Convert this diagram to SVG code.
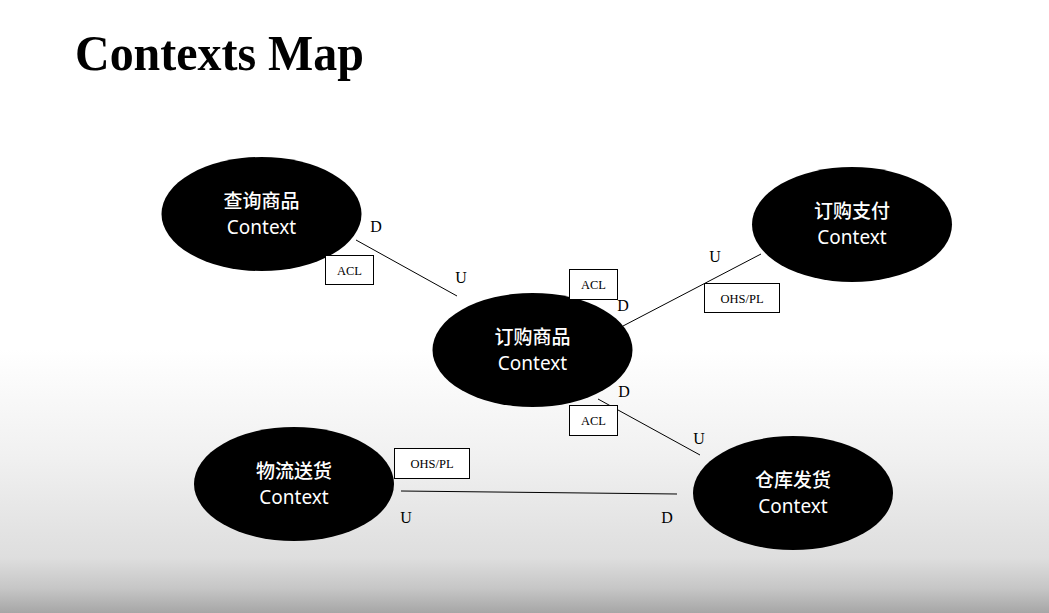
<svg xmlns="http://www.w3.org/2000/svg" width="1049" height="613" viewBox="0 0 1049 613">
  <defs>
    <linearGradient id="bg" x1="0" y1="0" x2="0" y2="1">
      <stop offset="0" stop-color="#ffffff"/>
      <stop offset="0.57" stop-color="#ffffff"/>
      <stop offset="0.75" stop-color="#f0f0f0"/>
      <stop offset="0.91" stop-color="#dedede"/>
      <stop offset="0.96" stop-color="#c6c6c6"/>
      <stop offset="1" stop-color="#a6a6a6"/>
    </linearGradient>
  </defs>
  <style>
    .node { fill: #000000; }
    .zh { font-family: "Noto Sans CJK SC", "Noto Sans", sans-serif; font-size: 19px; font-weight: 500; fill: #ffffff; text-anchor: middle; }
    .en { font-family: "Noto Sans", "Open Sans", sans-serif; font-size: 19px; fill: #ffffff; text-anchor: middle; }
    .conn { stroke: #000000; stroke-width: 1; fill: none; }
    .box { fill: #ffffff; stroke: #000000; stroke-width: 1; }
    .boxt { font-family: "Liberation Serif", "Times New Roman", serif; font-size: 12.5px; fill: #000000; text-anchor: middle; }
    .lbl { font-family: "Liberation Serif", "Times New Roman", serif; font-size: 16px; fill: #000000; text-anchor: middle; }
    .title { font-family: "Liberation Serif", "Times New Roman", serif; font-size: 50px; font-weight: bold; fill: #000000; }
  </style>
  <rect x="0" y="0" width="1049" height="613" fill="url(#bg)"/>
  <text class="title" x="75" y="70" textLength="289" lengthAdjust="spacingAndGlyphs">Contexts Map</text>

  <g id="connectors">
    <line class="conn" x1="356" y1="240" x2="457" y2="296"/>
    <line class="conn" x1="623" y1="326" x2="761" y2="254"/>
    <line class="conn" x1="598" y1="399" x2="700" y2="455"/>
    <line class="conn" x1="401" y1="491" x2="677" y2="494"/>
  </g>

  <g id="node-chaxun">
    <ellipse class="node" cx="261.5" cy="214" rx="100" ry="57"/>
    <text class="zh" x="261.5" y="208">查询商品</text>
    <text class="en" x="261.5" y="234">Context</text>
  </g>
  <g id="node-dinggou">
    <ellipse class="node" cx="532.5" cy="350" rx="100" ry="57"/>
    <text class="zh" x="532.5" y="344">订购商品</text>
    <text class="en" x="532.5" y="370">Context</text>
  </g>
  <g id="node-zhifu">
    <ellipse class="node" cx="852" cy="224.5" rx="100" ry="57.5"/>
    <text class="zh" x="852" y="218">订购支付</text>
    <text class="en" x="852" y="244">Context</text>
  </g>
  <g id="node-wuliu">
    <ellipse class="node" cx="294" cy="484" rx="100" ry="57"/>
    <text class="zh" x="294" y="478">物流送货</text>
    <text class="en" x="294" y="504">Context</text>
  </g>
  <g id="node-cangku">
    <ellipse class="node" cx="793" cy="493" rx="100" ry="57"/>
    <text class="zh" x="793" y="487">仓库发货</text>
    <text class="en" x="793" y="513">Context</text>
  </g>

  <g id="labels">
    <rect class="box" x="325.5" y="255.5" width="48" height="29"/>
    <text class="boxt" x="349.5" y="274.5">ACL</text>
    <rect class="box" x="569.5" y="269.5" width="48" height="30"/>
    <text class="boxt" x="593.5" y="289">ACL</text>
    <rect class="box" x="704.5" y="283.5" width="75" height="29"/>
    <text class="boxt" x="742" y="302.5">OHS/PL</text>
    <rect class="box" x="569.5" y="405.5" width="48" height="30"/>
    <text class="boxt" x="593.5" y="425">ACL</text>
    <rect class="box" x="394.5" y="448.5" width="75" height="30"/>
    <text class="boxt" x="432" y="468">OHS/PL</text>

    <text class="lbl" x="376" y="232">D</text>
    <text class="lbl" x="461" y="283">U</text>
    <text class="lbl" x="623" y="311">D</text>
    <text class="lbl" x="715" y="262">U</text>
    <text class="lbl" x="624" y="397">D</text>
    <text class="lbl" x="699" y="444">U</text>
    <text class="lbl" x="406" y="523">U</text>
    <text class="lbl" x="667" y="523">D</text>
  </g>
</svg>
